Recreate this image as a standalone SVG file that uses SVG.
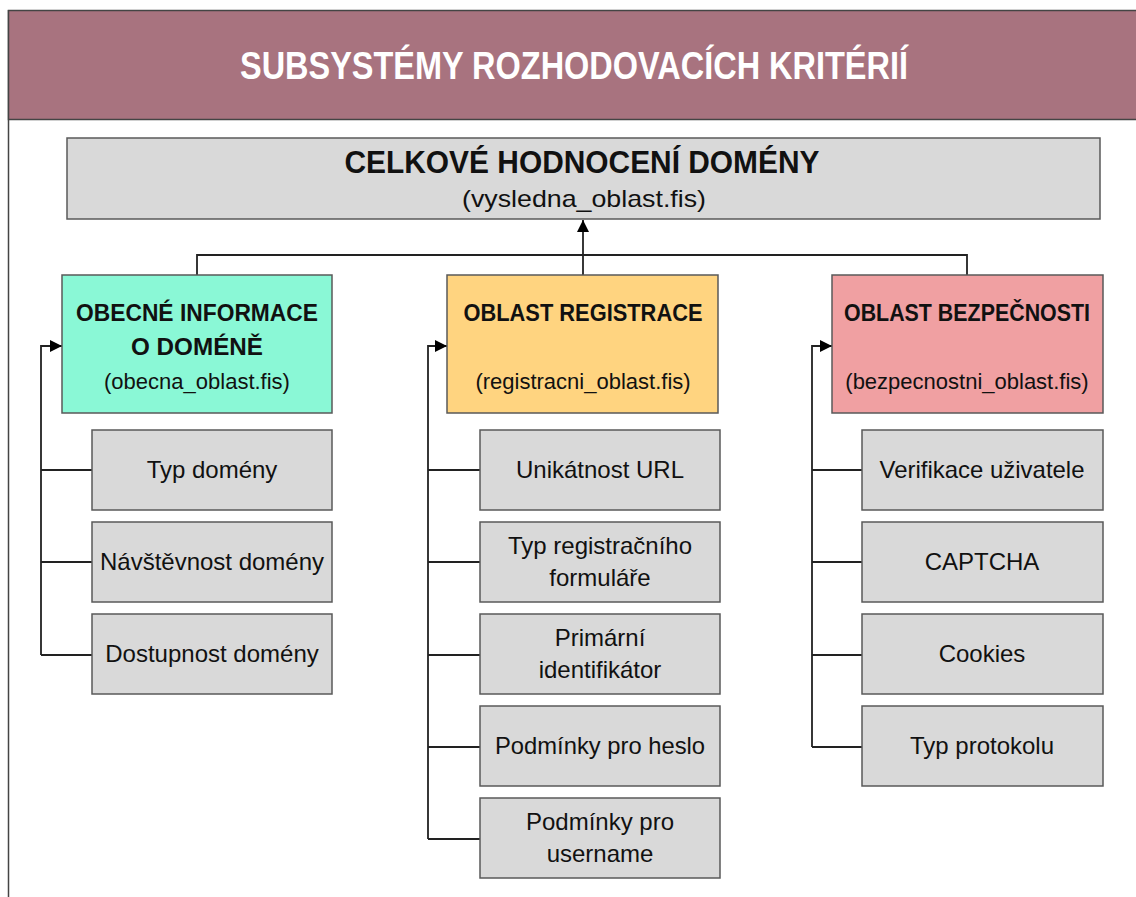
<svg xmlns="http://www.w3.org/2000/svg" width="1136" height="897" viewBox="0 0 1136 897">
<defs>
<style>
.t{font-family:"Liberation Sans",Arial,sans-serif;fill:#111;text-anchor:middle}
.b{font-weight:bold}
.box{stroke:#595959;stroke-width:1.5}
.child{fill:#d9d9d9;stroke:#595959;stroke-width:1.5}
.ln{fill:none;stroke:#222;stroke-width:1.8}
.c{font-size:24px}
.h{font-size:23px}
.s{font-size:22px}
</style>
<marker id="arr" viewBox="0 0 12 12" refX="12" refY="6" markerWidth="12" markerHeight="12" markerUnits="userSpaceOnUse" orient="auto"><path d="M0,0 L12,6 L0,12 z" fill="#000"/></marker>
</defs>
<rect x="0" y="0" width="1136" height="897" fill="#ffffff"/>
<g id="frame">
<line x1="8.5" y1="10" x2="8.5" y2="897" stroke="#444" stroke-width="1.5"/>
<rect x="8.5" y="10.5" width="1140" height="109" fill="#a8737f" stroke="#444" stroke-width="1.5"/>
<text class="t b" x="574" y="79" font-size="38" style="fill:#fff" textLength="668" lengthAdjust="spacingAndGlyphs">SUBSYSTÉMY ROZHODOVACÍCH KRITÉRIÍ</text>
</g>
<g id="connectors">
<line class="ln" x1="583" y1="275" x2="583" y2="220" marker-end="url(#arr)"/>
<polyline class="ln" points="197,275 197,255 967,255 967,275"/>
<polyline class="ln" points="41,655 41,346 62,346" marker-end="url(#arr)"/>
<line class="ln" x1="41" y1="470" x2="92" y2="470"/>
<line class="ln" x1="41" y1="562" x2="92" y2="562"/>
<line class="ln" x1="41" y1="655" x2="92" y2="655"/>
<polyline class="ln" points="428,839 428,346 447,346" marker-end="url(#arr)"/>
<line class="ln" x1="428" y1="470" x2="480" y2="470"/>
<line class="ln" x1="428" y1="562" x2="480" y2="562"/>
<line class="ln" x1="428" y1="655" x2="480" y2="655"/>
<line class="ln" x1="428" y1="747" x2="480" y2="747"/>
<line class="ln" x1="428" y1="839" x2="480" y2="839"/>
<polyline class="ln" points="812,747 812,346 832,346" marker-end="url(#arr)"/>
<line class="ln" x1="812" y1="470" x2="862" y2="470"/>
<line class="ln" x1="812" y1="562" x2="862" y2="562"/>
<line class="ln" x1="812" y1="655" x2="862" y2="655"/>
<line class="ln" x1="812" y1="747" x2="862" y2="747"/>
</g>
<g id="celkove">
<rect class="box" x="67" y="138" width="1033" height="81" fill="#d9d9d9"/>
<text class="t b" x="582" y="173" font-size="31" textLength="475" lengthAdjust="spacingAndGlyphs">CELKOVÉ HODNOCENÍ DOMÉNY</text>
<text class="t" x="584" y="207" font-size="24" textLength="244" lengthAdjust="spacingAndGlyphs">(vysledna_oblast.fis)</text>
</g>
<g id="obecne">
<rect class="box" x="62" y="275" width="270" height="138" fill="#8af8d6"/>
<text class="t b h" x="197" y="321" textLength="242" lengthAdjust="spacingAndGlyphs">OBECNÉ INFORMACE</text>
<text class="t b h" x="197" y="355" textLength="132" lengthAdjust="spacingAndGlyphs">O DOMÉNĚ</text>
<text class="t s" x="197" y="389">(obecna_oblast.fis)</text>
</g>
<g id="registrace">
<rect class="box" x="447" y="275" width="271" height="138" fill="#ffd480"/>
<text class="t b h" x="583" y="321" textLength="239" lengthAdjust="spacingAndGlyphs">OBLAST REGISTRACE</text>
<text class="t s" x="583" y="389">(registracni_oblast.fis)</text>
</g>
<g id="bezpecnost">
<rect class="box" x="832" y="275" width="271" height="138" fill="#f0a0a2"/>
<text class="t b h" x="967" y="321" textLength="246" lengthAdjust="spacingAndGlyphs">OBLAST BEZPEČNOSTI</text>
<text class="t s" x="967" y="389">(bezpecnostni_oblast.fis)</text>
</g>
<g id="typ-domeny"><rect class="child" x="92" y="430" width="240" height="80"/><text class="t c" x="212" y="478">Typ domény</text></g>
<g id="navstevnost"><rect class="child" x="92" y="522" width="240" height="80"/><text class="t c" x="212" y="570" textLength="224" lengthAdjust="spacingAndGlyphs">Návštěvnost domény</text></g>
<g id="dostupnost"><rect class="child" x="92" y="614" width="240" height="80"/><text class="t c" x="212" y="662">Dostupnost domény</text></g>
<g id="unikatnost"><rect class="child" x="480" y="430" width="240" height="80"/><text class="t c" x="600" y="478">Unikátnost URL</text></g>
<g id="typ-formulare"><rect class="child" x="480" y="522" width="240" height="80"/><text class="t c" x="600" y="554">Typ registračního</text><text class="t c" x="600" y="586">formuláře</text></g>
<g id="primarni"><rect class="child" x="480" y="614" width="240" height="80"/><text class="t c" x="600" y="646">Primární</text><text class="t c" x="600" y="678">identifikátor</text></g>
<g id="heslo"><rect class="child" x="480" y="706" width="240" height="80"/><text class="t c" x="600" y="754" textLength="210" lengthAdjust="spacingAndGlyphs">Podmínky pro heslo</text></g>
<g id="username"><rect class="child" x="480" y="798" width="240" height="80"/><text class="t c" x="600" y="830">Podmínky pro</text><text class="t c" x="600" y="862">username</text></g>
<g id="verifikace"><rect class="child" x="862" y="430" width="241" height="80"/><text class="t c" x="982" y="478" textLength="205" lengthAdjust="spacingAndGlyphs">Verifikace uživatele</text></g>
<g id="captcha"><rect class="child" x="862" y="522" width="241" height="80"/><text class="t c" x="982" y="570">CAPTCHA</text></g>
<g id="cookies"><rect class="child" x="862" y="614" width="241" height="80"/><text class="t c" x="982" y="662">Cookies</text></g>
<g id="protokol"><rect class="child" x="862" y="706" width="241" height="80"/><text class="t c" x="982" y="754">Typ protokolu</text></g>
</svg>
